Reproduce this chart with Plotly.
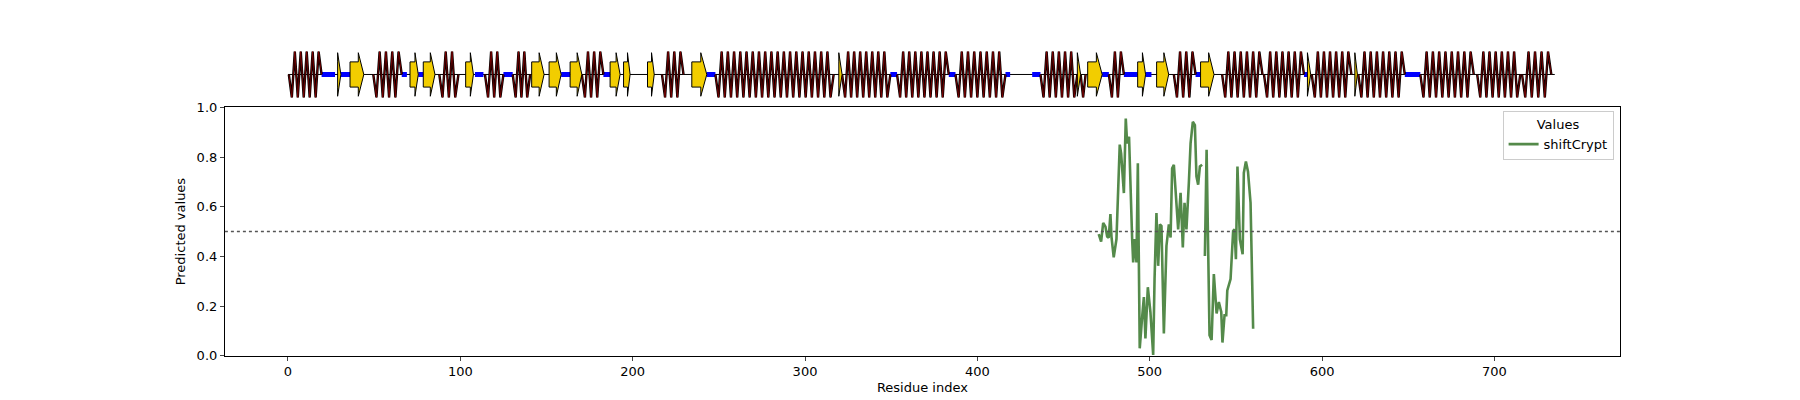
import numpy as np
import plotly.graph_objects as go

residues = [470.4,471.8,473,474.3,475.3,476.2,477.2,477.8,479.1,480.7,482.6,483.4,485,486.1,486.9,488,489.8,490.4,491.1,492.3,493.1,494.2,495.6,496.6,497.5,498.9,500.4,502,502.8,503.9,504.9,505.9,506.8,508.2,509.7,511.1,512.1,513,514,515.5,516.5,517.9,519.2,520.2,521.3,522.7,523.7,525,526.2,527.1,528.1,529.1,530.4,531.2,532,533,534.7,535.9,537.2,538.8,540.1,541.5,542.2,543.4,544.4,545,546.9,548.4,549.2,550,550.9,552.3,553.9,554.6,555.8,557,558.5,560]
values = [0.49,0.46,0.535,0.52,0.48,0.475,0.57,0.48,0.396,0.47,0.85,0.815,0.655,0.955,0.855,0.882,0.47,0.376,0.47,0.376,0.775,0.03,0.156,0.236,0.07,0.276,0.176,0.003,0.31,0.575,0.362,0.529,0.522,0.09,0.442,0.529,0.476,0.755,0.769,0.602,0.509,0.656,0.436,0.616,0.509,0.696,0.855,0.942,0.929,0.722,0.689,0.762,0.769,None,0.402,0.829,0.083,0.063,0.329,0.17,0.216,0.176,0.053,0.163,0.163,0.263,0.309,0.502,0.509,0.389,0.762,0.469,0.409,0.736,0.782,0.742,0.616,0.109]

seq_length = 735
helices = [(0.5,19.5),(49.5,66),(87.8,98.9),(114.3,125),(130.4,140.5),(170.5,183),(217,229.5),(248,316.6),(321.5,349.5),(353.4,383.4),(387.3,416.3),(436.6,458),(459.9,462.8),(476.3,485),(514,526.6),(542,565.4),(566.3,589.5),(594,617),(621,648),(657,688),(690,715),(716,733)]
strands = [(28.8,30.7),(36,44),(70.8,75.6),(78.5,85.3),(103.1,107.6),(141.4,148.6),(151.5,158.5),(163.7,170.5),(186.9,192.7),(194.7,198.5),(208.6,212.5),(234.3,243),(319.6,321.5),(458,459.9),(464,472.4),(493,497.6),(504,511),(529.5,537.3),(591.5,593.4),(619,620.5)]
turns = [(19.5,27.3),(30.7,36),(66,69),(75.6,78.5),(108.5,113.4),(125,130.4),(158.5,163.7),(183,186.9),(243,248),(349.5,353.4),(383.4,387.3),(416.3,419),(431.8,436.6),(472.4,476.3),(485,493),(497.6,501),(526.6,529.5),(589.5,591.5),(648,657)]

fig = go.Figure()

fig.add_trace(go.Scatter(x=[0, seq_length], y=[0, 0], mode="lines", line=dict(color="black", width=1),
                         xaxis="x2", yaxis="y2", showlegend=False, hoverinfo="skip"))
for s, e in turns:
    fig.add_trace(go.Scatter(x=[s, e], y=[0, 0], mode="lines", line=dict(color="blue", width=5),
                             xaxis="x2", yaxis="y2", showlegend=False, hoverinfo="skip"))
period = 3.6
for s, e in helices:
    n = max(2, int(round((e - s) / (period / 2))))
    xs = np.linspace(s, e, n + 1)
    ys = [(-1 if i % 2 else 1) for i in range(n + 1)]
    ys[0] = 0; ys[-1] = 0
    fig.add_trace(go.Scatter(x=xs, y=ys, mode="lines", line=dict(color="black", width=2.4),
                             xaxis="x2", yaxis="y2", showlegend=False, hoverinfo="skip"))
    fig.add_trace(go.Scatter(x=xs, y=ys, mode="lines", line=dict(color="#8b0000", width=0.8),
                             xaxis="x2", yaxis="y2", showlegend=False, hoverinfo="skip"))
for s, e in strands:
    L = e - s
    hb = s + L * 0.6 if L > 3 else s
    xs = [s, hb, hb, e, hb, hb, s, s]
    ys = [-0.55, -0.55, -0.95, 0, 0.95, 0.55, 0.55, -0.55]
    fig.add_trace(go.Scatter(x=xs, y=ys, mode="lines", fill="toself", fillcolor="#f2cd00",
                             line=dict(color="black", width=1), xaxis="x2", yaxis="y2",
                             showlegend=False, hoverinfo="skip"))

fig.add_trace(go.Scatter(x=residues, y=values, mode="lines", name="shiftCrypt",
                         line=dict(color="#548a4a", width=2.6), connectgaps=False))
fig.add_shape(type="line", xref="paper", x0=0.1205, x1=0.8955, yref="y", y0=0.5, y1=0.5,
              line=dict(color="#555555", width=1.4, dash="dot"))

xr = [-36.6, 772.8]
f13 = dict(family="DejaVu Sans", size=13, color="black")
fig.update_layout(
    width=1800, height=400, paper_bgcolor="white", plot_bgcolor="white",
    font=f13,
    margin=dict(l=0, r=0, t=0, b=0),
    xaxis=dict(domain=[0.1205, 0.8955], range=xr, showgrid=False, zeroline=False,
               tickvals=[0, 100, 200, 300, 400, 500, 600, 700], ticks="outside", ticklen=4, tickfont=f13,
               showline=True, linecolor="black", mirror=True, title=dict(text="Residue index", standoff=4, font=f13)),
    yaxis=dict(domain=[0.115, 0.760], range=[0, 1], showgrid=False, zeroline=False,
               tickvals=[0, 0.2, 0.4, 0.6, 0.8, 1.0], ticktext=["0.0", "0.2", "0.4", "0.6", "0.8", "1.0"],
               ticks="outside", ticklen=4, tickfont=f13, showline=True, linecolor="black", mirror=True,
               title=dict(text="Predicted values", standoff=8, font=f13)),
    xaxis2=dict(domain=[0.1205, 0.8955], range=xr, visible=False, anchor="y2"),
    yaxis2=dict(domain=[0.783, 0.908], range=[-1.05, 1.05], visible=False, anchor="x2"),
    legend=dict(x=0.892, y=0.75, xanchor="right", yanchor="top", bordercolor="#cccccc", borderwidth=1,
                title=dict(text="Values", side="top center", font=f13), font=f13, bgcolor="white"),
)
fig.write_html("out.html")
